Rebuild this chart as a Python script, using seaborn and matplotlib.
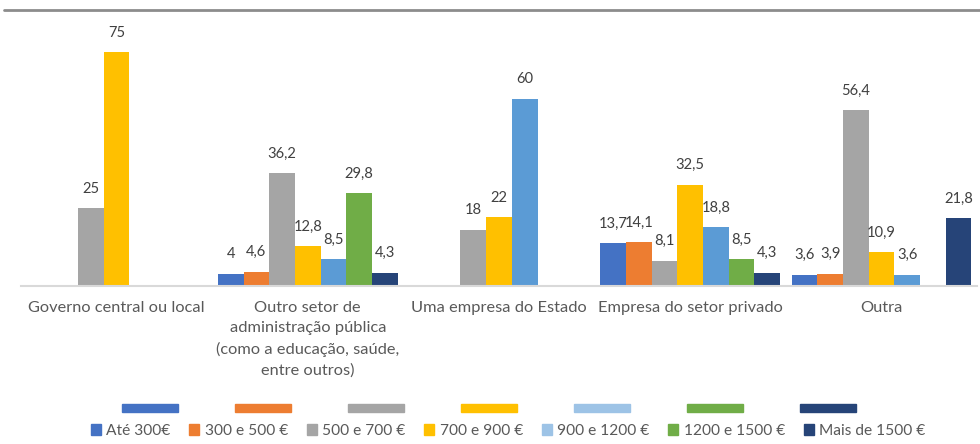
import numpy as np
import pandas as pd
import matplotlib.pyplot as plt
import seaborn as sns
from matplotlib.patches import Patch
from matplotlib.lines import Line2D

# =========================
# Data
# =========================
categories = [
    "Governo central ou local",
    "Outro setor de\nadministração pública\n(como a educação, saúde,\nentre outros)",
    "Uma empresa do Estado",
    "Empresa do setor privado",
    "Outra",
]
salary_bands = ["Até 300€", "300 e 500 €", "500 e 700 €", "700 e 900 €",
                "900 e 1200 €", "1200 e 1500 €", "Mais de 1500 €"]

nan = np.nan
ate_300 = [nan, 4, nan, 13.7, 3.6]
de_300_500 = [nan, 4.6, nan, 14.1, 3.9]
de_500_700 = [25, 36.2, 18, 8.1, 56.4]
de_700_900 = [75, 12.8, 22, 32.5, 10.9]
de_900_1200 = [nan, 8.5, 60, 18.8, 3.6]
de_1200_1500 = [nan, 29.8, nan, 8.5, nan]
mais_1500 = [nan, 4.3, nan, 4.3, 21.8]

bar_colors = ["#4472C4", "#ED7D31", "#A5A5A5", "#FFC000", "#5B9BD5", "#70AD47", "#264478"]
legend_colors = ["#4472C4", "#ED7D31", "#A5A5A5", "#FFC000", "#9DC3E6", "#70AD47", "#264478"]

series = [ate_300, de_300_500, de_500_700, de_700_900, de_900_1200, de_1200_1500, mais_1500]
rows = []
for band, values in zip(salary_bands, series):
    for cat, v in zip(categories, values):
        rows.append({"categoria": cat, "escalao": band, "valor": v})
df = pd.DataFrame(rows).dropna()

# =========================
# Plot
# =========================
sns.set_style("white")
plt.rcParams['font.family'] = ['Lato', 'DejaVu Sans']

fig = plt.figure(figsize=(9.8, 4.44), dpi=100)
ax = fig.add_axes([21 / 980, 1 - 286 / 444, 956 / 980, 276 / 444])

sns.barplot(data=df, x="categoria", y="valor", hue="escalao",
            order=categories, hue_order=salary_bands, palette=bar_colors,
            saturation=1, width=0.94, linewidth=0, legend=False, ax=ax)

def fmt(v):
    if float(v).is_integer():
        return str(int(v))
    return f"{v:.1f}".replace(".", ",")

for cont in ax.containers:
    ax.bar_label(cont, labels=[fmt(v) for v in cont.datavalues],
                 padding=9, fontsize=10.6, color="#404040")

ax.set_ylim(0, 88.5)
ax.set_xlim(-0.5, len(categories) - 0.5)
ax.set_xlabel("")
ax.set_ylabel("")
ax.set_yticks([])
for side in ["left", "right", "top"]:
    ax.spines[side].set_visible(False)
ax.spines["bottom"].set_color("#D9D9D9")
ax.spines["bottom"].set_linewidth(1.5)
ax.tick_params(axis="x", length=0, pad=11, labelsize=11.8, labelcolor="#595959")
for lbl in ax.get_xticklabels():
    lbl.set_linespacing(1.55)
    lbl.set_verticalalignment("top")

# top rule
fig.add_artist(Line2D([4 / 980, 1.0], [1 - 10.5 / 444] * 2, color="#8C8C8C",
                      lw=2, transform=fig.transFigure))

# legend: row of wide bars, then the labelled row
fig.legend(handles=[Patch(color=c) for c in legend_colors], labels=[""] * 7,
           ncol=7, loc="center", bbox_to_anchor=(489 / 980, 1 - 409.5 / 444),
           frameon=False, fontsize=11, handlelength=3.7, handleheight=0.45,
           handletextpad=0, columnspacing=3.7, borderpad=0)
fig.legend(handles=[Patch(color=c) for c in legend_colors], labels=salary_bands,
           ncol=7, loc="center", bbox_to_anchor=(508 / 980, 1 - 431 / 444),
           frameon=False, fontsize=11.2, labelcolor="#595959",
           handlelength=0.65, handleheight=0.65, handletextpad=0.35,
           columnspacing=1.2, borderpad=0)

fig.savefig("out.png", dpi=100)
